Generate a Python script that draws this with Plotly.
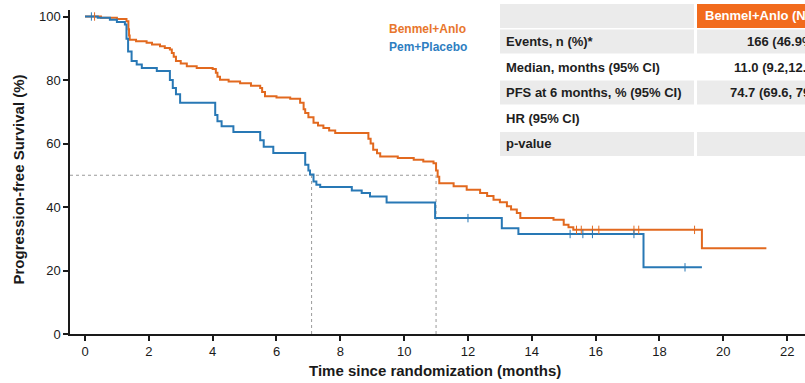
import plotly.graph_objects as go
import numpy as np

# ---------------- data ----------------
orange_t = [0, 0.5, 1.0, 1.3, 1.36, 1.38, 1.40, 1.6, 1.93, 2.1, 2.35, 2.5, 2.66, 2.72, 2.78, 2.85,
            3.0, 3.19, 3.5, 4.0, 4.1, 4.15, 4.23, 4.5, 4.86, 5.2, 5.49, 5.55, 5.64, 6.0, 6.43,
            6.74, 6.85, 6.9, 7.0, 7.16, 7.3, 7.47, 7.65, 7.84, 8.88, 8.95, 9.03, 9.15, 9.25,
            9.8, 10.3, 10.6, 10.92, 11.0, 11.05, 11.1, 11.55, 11.96, 12.38, 12.6, 12.8, 13.0,
            13.22, 13.35, 13.53, 13.64, 14.68, 15.0, 15.15, 15.3, 19.33, 21.35]
orange_s = [100, 99.6, 99.2, 98.5, 96.0, 94.0, 92.7, 92.2, 91.7, 91.2, 90.6, 90.1, 89.6, 88.5, 87.3, 86.0,
            85.2, 84.3, 83.8, 83.5, 82.3, 81.0, 80.1, 79.5, 79.0, 78.2, 77.5, 76.2, 74.9, 74.5, 74.1,
            72.8, 70.8, 69.6, 68.3, 66.5, 65.7, 64.9, 64.1, 63.3, 61.5, 60.0, 58.0, 56.9, 55.9,
            55.4, 54.9, 54.3, 53.8, 51.5, 49.5, 47.5, 46.5, 45.4, 44.4, 43.5, 42.3, 41.5,
            40.2, 39.2, 38.1, 36.5, 36.0, 34.4, 33.6, 32.8, 27.0, 27.0]

blue_t = [0, 0.4, 0.78, 1.0, 1.25, 1.3, 1.35, 1.46, 1.62, 1.78, 2.25, 2.66, 2.75, 2.85, 2.98,
          4.08, 4.15, 4.28, 4.65, 5.49, 5.6, 5.9, 6.9, 7.0, 7.05, 7.16, 7.25, 7.37, 8.36, 8.67,
          8.93, 9.45, 10.97, 13.06, 13.58, 17.5, 19.33]
blue_s = [100, 99.6, 99.0, 98.3, 97.5, 93.0, 89.0, 86.0, 84.9, 83.8, 82.8, 80.0, 77.5, 75.5, 72.8,
          69.0, 67.0, 65.4, 63.6, 61.0, 59.0, 57.0, 53.3, 51.5, 50.2, 48.0, 47.0, 46.3, 45.2, 44.4,
          43.3, 41.4, 36.5, 33.3, 31.5, 21.0, 21.0]

orange_censor = [0.3, 15.4, 15.55, 15.9, 16.1, 17.2, 17.35, 19.1]
blue_censor = [0.2, 12.0, 15.2, 15.6, 15.9, 17.2, 18.8]

median_orange = 11.0
median_blue = 7.1

x_ticks = list(range(0, 23, 2))
y_ticks = [0, 20, 40, 60, 80, 100]

arm_names = ["Benmel+Anlo", "Pem+Placebo"]
table_rows = ["", "Events, n (%)*", "Median, months (95% CI)", "PFS at 6 months, % (95% CI)",
              "HR (95% CI)", "p-value"]
table_col1 = ["Benmel+Anlo (N=354)", "166 (46.9%)", "11.0 (9.2,12.5)", "74.7 (69.6, 79.0)", "", ""]

# ---------------- styling ----------------
ORANGE = "#E2691F"
BLUE = "#2878B5"
GRAY = "#EBEBEB"
HEADER = "#F26B1D"
W, H = 805, 383
L, R, T, B = 70, 0, 10, 49


def step_at(ts, ss, t):
    i = np.searchsorted(ts, t, side="right") - 1
    return ss[max(i, 0)]


def px(xp):
    return (xp - L) / (W - L - R)


def py(yp):
    return (H - B - yp) / (H - T - B)


fig = go.Figure()

fig.add_trace(go.Scatter(x=orange_t, y=orange_s, mode="lines", line=dict(color=ORANGE, width=2, shape="hv"),
                         showlegend=False, hoverinfo="skip"))
fig.add_trace(go.Scatter(x=blue_t, y=blue_s, mode="lines", line=dict(color=BLUE, width=2, shape="hv"),
                         showlegend=False, hoverinfo="skip"))
fig.add_trace(go.Scatter(x=orange_censor, y=[step_at(orange_t, orange_s, t) for t in orange_censor],
                         mode="markers", marker=dict(symbol="line-ns", size=6, line=dict(color=ORANGE, width=1)),
                         showlegend=False, hoverinfo="skip"))
fig.add_trace(go.Scatter(x=blue_censor, y=[step_at(blue_t, blue_s, t) for t in blue_censor],
                         mode="markers", marker=dict(symbol="line-ns", size=6, line=dict(color=BLUE, width=1)),
                         showlegend=False, hoverinfo="skip"))

dot = dict(color="#9A9A9A", width=1, dash="dot")
shapes = [
    dict(type="line", xref="x", yref="y", x0=-0.47, x1=median_orange, y0=50, y1=50, line=dot, layer="below"),
    dict(type="line", xref="x", yref="y", x0=median_blue, x1=median_blue, y0=0, y1=50, line=dot, layer="below"),
    dict(type="line", xref="x", yref="y", x0=median_orange, x1=median_orange, y0=0, y1=50, line=dot, layer="below"),
]

# table
row_tops = [4, 29.5, 55, 80.5, 106, 132]
row_h = 24
left_fill = [GRAY, GRAY, "white", GRAY, "white", GRAY]
right_fill = [HEADER, GRAY, "white", GRAY, "white", GRAY]
right_text_x = [703, 745, 732, 728, 745, 745]
annotations = []
for i, top in enumerate(row_tops):
    shapes.append(dict(type="rect", xref="paper", yref="paper", x0=px(500), x1=px(694),
                       y0=py(top + row_h), y1=py(top), fillcolor=left_fill[i], line=dict(width=0)))
    shapes.append(dict(type="rect", xref="paper", yref="paper", x0=px(697), x1=px(950),
                       y0=py(top + row_h), y1=py(top), fillcolor=right_fill[i], line=dict(width=0)))
    if table_rows[i]:
        annotations.append(dict(xref="paper", yref="paper", x=px(504), y=py(top + row_h / 2),
                                xanchor="left", yanchor="middle", text=f"<b>{table_rows[i]}</b>",
                                showarrow=False, font=dict(family="Liberation Sans, Arial", size=13, color="#1e1e1e")))
    if table_col1[i]:
        annotations.append(dict(xref="paper", yref="paper", x=px(right_text_x[i]), y=py(top + row_h / 2),
                                xanchor="left", yanchor="middle", text=f"<b>{table_col1[i]}</b>",
                                showarrow=False,
                                font=dict(family="Liberation Sans, Arial", size=13,
                                          color="white" if i == 0 else "#1e1e1e")))

# legend text
annotations.append(dict(xref="paper", yref="paper", x=px(387), y=py(29), xanchor="left", yanchor="middle",
                        text=f"<b>{arm_names[0]}</b>", showarrow=False,
                        font=dict(family="Liberation Sans, Arial", size=12, color="#E8762D")))
annotations.append(dict(xref="paper", yref="paper", x=px(387), y=py(47), xanchor="left", yanchor="middle",
                        text=f"<b>{arm_names[1]}</b>", showarrow=False,
                        font=dict(family="Liberation Sans, Arial", size=12, color="#2E7EC1")))

# axis titles
annotations.append(dict(xref="paper", yref="paper", x=px(435), y=py(370), xanchor="center", yanchor="middle",
                        text="<b>Time since randomization (months)</b>", showarrow=False,
                        font=dict(family="Liberation Sans Narrow, Arial Narrow, Liberation Sans", size=15, color="#1a1a1a")))
annotations.append(dict(xref="paper", yref="paper", x=px(17.5), y=py(180), xanchor="center", yanchor="middle",
                        text="<b>Progression-free Survival (%)</b>", showarrow=False, textangle=-90,
                        font=dict(family="Liberation Sans, Arial", size=15, color="#1a1a1a")))

fig.update_layout(
    width=W, height=H,
    margin=dict(l=L, r=R, t=T, b=B, pad=0),
    paper_bgcolor="white", plot_bgcolor="white",
    shapes=shapes, annotations=annotations,
    xaxis=dict(range=[-0.47, 22.56], tickvals=x_ticks, ticks="outside", ticklen=5, tickwidth=1.5,
               tickcolor="#1a1a1a", showline=True, linecolor="#1a1a1a", linewidth=1.5, showgrid=False,
               zeroline=False,
               tickfont=dict(family="Liberation Sans Narrow, Arial Narrow, Liberation Sans", size=13, color="#1a1a1a")),
    yaxis=dict(range=[0, 102.05], tickvals=y_ticks, ticks="outside", ticklen=5, tickwidth=1.5,
               tickcolor="#1a1a1a", showline=True, linecolor="#1a1a1a", linewidth=1.5, showgrid=False,
               zeroline=False,
               tickfont=dict(family="Liberation Sans, Arial", size=13, color="#1a1a1a")),
)

fig.write_html("out.html")
